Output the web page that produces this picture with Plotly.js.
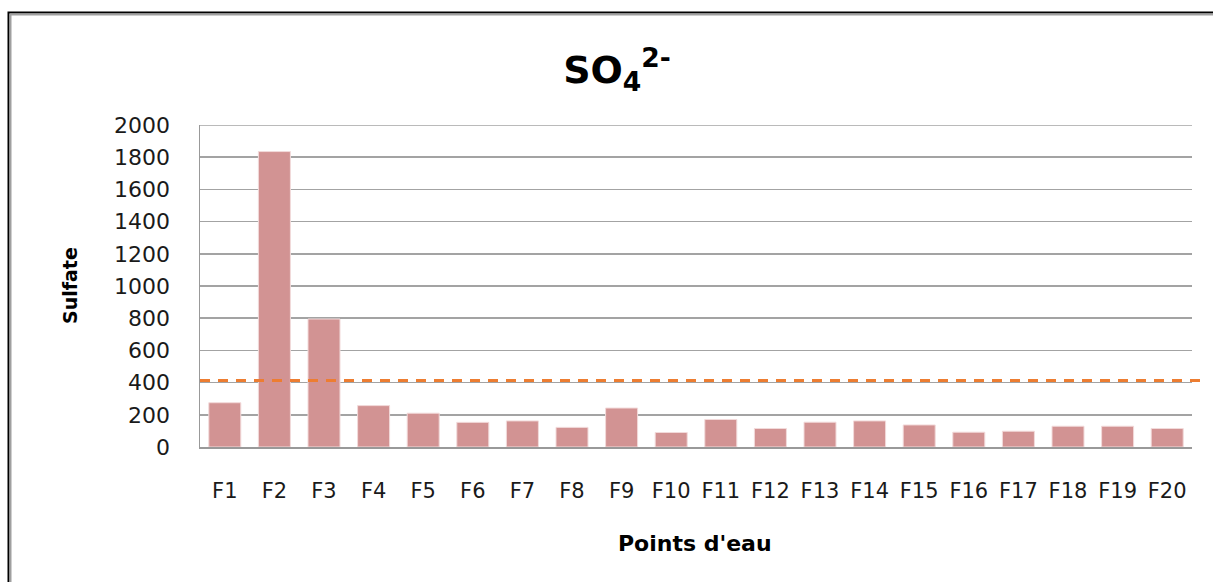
<!DOCTYPE html>
<html>
<head>
<meta charset="utf-8">
<script src="https://cdn.plot.ly/plotly-3.0.1.min.js"></script>
<style>html,body{margin:0;padding:0;background:#fff;}#chart{width:1213px;height:582px;}</style>
</head>
<body>
<div id="chart"></div>
<script>
const categories = ["F1","F2","F3","F4","F5","F6","F7","F8","F9","F10","F11","F12","F13","F14","F15","F16","F17","F18","F19","F20"];
const sulfate = [275,1835,795,257,210,153,162,122,242,90,171,115,154,162,137,92,98,129,129,115];
const threshold = 413;
const yTicks = [0,200,400,600,800,1000,1200,1400,1600,1800,2000];

const PX_L = 200, PX_R = 1192, PX_T = 125, PX_B = 446.7;
const px2x = p => (p - PX_L) / (PX_R - PX_L);
const px2y = p => (PX_B - p) / (PX_B - PX_T);
const yMax = yTicks[yTicks.length - 1];
const GRID = '#a3a3a3';

const trace = {
  type: 'bar',
  x: categories,
  y: sulfate,
  marker: {color: '#d29393', line: {color: '#f2dada', width: 1}},
  hoverinfo: 'x+y'
};

const layout = {
  width: 1213, height: 582,
  margin: {l: PX_L, r: 1213 - PX_R, t: PX_T, b: 582 - PX_B, pad: 0},
  paper_bgcolor: '#ffffff', plot_bgcolor: '#ffffff',
  showlegend: false,
  bargap: 0.355,
  font: {family: 'DejaVu Sans', size: 21, color: '#1a1a1a'},
  title: {
    text: 'SO<sub>4</sub><sup>2-</sup>',
    font: {family: 'DejaVu Sans', size: 38, weight: 'bold', color: '#000'},
    x: 617/1213, xref: 'container', xanchor: 'center',
    y: 1 - 70/582, yref: 'container', yanchor: 'middle'
  },
  xaxis: {
    type: 'category',
    showgrid: false,
    showline: true, linecolor: '#999999', linewidth: 1.5,
    ticks: '', ticklabelstandoff: 24,
    tickfont: {family: 'DejaVu Sans', size: 21, color: '#1a1a1a'},
    fixedrange: true
  },
  yaxis: {
    range: [0, yMax],
    tickvals: yTicks,
    ticktext: yTicks.map(String),
    showgrid: true, gridcolor: GRID, gridwidth: 1.5,
    zeroline: false,
    showline: true, linecolor: '#999999', linewidth: 1.5,
    ticks: '', ticklabelstandoff: 24,
    tickfont: {family: 'DejaVu Sans', size: 22, color: '#1a1a1a'},
    fixedrange: true
  },
  shapes: [
    {type: 'line', xref: 'paper', yref: 'y', x0: 0, x1: 1, y0: yMax, y1: yMax,
     line: {color: GRID, width: 1.5}, layer: 'below'},
    {type: 'line', xref: 'paper', yref: 'y', x0: 0, x1: px2x(1201), y0: threshold, y1: threshold,
     line: {color: '#ed7d31', width: 3, dash: '10px,8px'}, layer: 'above'},
    {type: 'rect', xref: 'paper', yref: 'paper', x0: px2x(8.5), x1: px2x(1240), y0: px2y(12.5), y1: px2y(620),
     line: {color: '#000000', width: 2}, fillcolor: 'rgba(0,0,0,0)', layer: 'below'},
    {type: 'rect', xref: 'paper', yref: 'paper', x0: px2x(10.5), x1: px2x(1242), y0: px2y(14.5), y1: px2y(622),
     line: {color: '#a0a0a0', width: 2}, fillcolor: 'rgba(0,0,0,0)', layer: 'below'}
  ],
  annotations: [
    {text: 'Sulfate', xref: 'paper', yref: 'paper', x: px2x(70), y: 0.5, xanchor: 'center', yanchor: 'middle',
     textangle: -90, showarrow: false, font: {family: 'DejaVu Sans', size: 19, weight: 'bold', color: '#000'}},
    {text: "Points d'eau", xref: 'paper', yref: 'paper', x: px2x(695), y: px2y(543), xanchor: 'center', yanchor: 'middle',
     showarrow: false, font: {family: 'DejaVu Sans', size: 22, weight: 'bold', color: '#000'}}
  ]
};

Plotly.newPlot('chart', [trace], layout, {displayModeBar: false, staticPlot: true});
</script>
</body>
</html>
